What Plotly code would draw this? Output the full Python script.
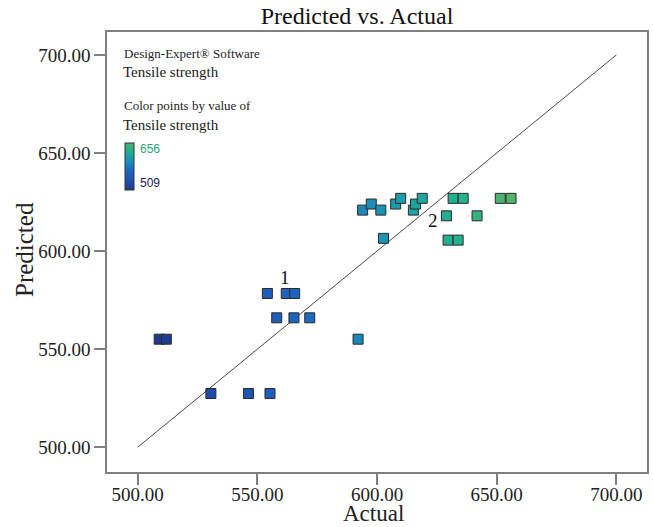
import plotly.graph_objects as go

# Data
actual = [554.2, 562.1, 565.6,
          558.1, 565.3, 571.9,
          509.0, 512.0, 592.1,
          530.6, 546.3, 555.3,
          594.0, 597.6, 601.6, 607.8, 609.9, 615.2, 616.1, 618.9,
          631.8, 636.0, 651.5, 656.0,
          629.0, 641.8,
          602.7, 629.7, 633.9]
predicted = [578.4, 578.4, 578.4,
             566.0, 566.0, 566.0,
             555.1, 555.1, 555.1,
             527.4, 527.4, 527.4,
             620.9, 624.0, 620.9, 624.0, 626.9, 620.9, 624.0, 626.9,
             626.9, 626.9, 626.9, 626.9,
             618.0, 618.0,
             606.5, 605.6, 605.6]
line_x = [500, 700]
line_y = [500, 700]
tick_vals = [500, 550, 600, 650, 700]
tick_text = ["500.00", "550.00", "600.00", "650.00", "700.00"]
color_min, color_max = 509, 656
labels = [("1", 561.5, 586.7), ("2", 623.5, 615.8)]

colorscale = [[0.0, "#1f3a8f"], [0.25, "#1f55b5"], [0.45, "#1b6dc4"],
              [0.6, "#1c8db8"], [0.72, "#1ca3a3"], [0.86, "#26b38a"],
              [1.0, "#52b36a"]]

serif = "Liberation Serif"
W, H = 654, 527
L, R, T, B = 107, 7, 32, 55
PW, PH = W - L - R, H - T - B


def px_x(px):
    return (px - L) / PW


def px_y(py):
    return (H - B - py) / PH


fig = go.Figure()
fig.add_trace(go.Scatter(x=line_x, y=line_y, mode="lines",
                         line=dict(color="#4a4a4a", width=1), hoverinfo="skip",
                         showlegend=False))
fig.add_trace(go.Scatter(
    x=actual, y=predicted, mode="markers", showlegend=False,
    marker=dict(symbol="square", size=10, color=actual, colorscale=colorscale,
                cmin=color_min, cmax=color_max,
                line=dict(color="#2a2a2a", width=1),
                showscale=True,
                colorbar=dict(thickness=9, lenmode="pixels", len=47,
                              x=px_x(125), xanchor="left", y=px_y(166.5),
                              yanchor="middle",
                              xpad=0, ypad=0, showticklabels=False, ticks="",
                              outlinewidth=1, outlinecolor="#333333"))))

for txt, lx, ly in labels:
    fig.add_annotation(x=lx, y=ly, text=txt, showarrow=False,
                       font=dict(family=serif, size=19, color="#111111"))


def pann(text, px, py, size, color="#222222", family=serif, anchor="left", angle=0):
    fig.add_annotation(xref="paper", yref="paper",
                       x=px_x(px), y=px_y(py), textangle=angle,
                       text=text, showarrow=False, xanchor=anchor, yanchor="middle",
                       font=dict(family=family, size=size, color=color))


pann("Design-Expert® Software", 122, 53, 13)
pann("Tensile strength", 121, 72, 15)
pann("Color points by value of", 122, 105, 13)
pann("Tensile strength", 121, 125, 15)
pann("656", 138, 149, 12, color="#1fa474", family="Liberation Sans")
pann("509", 138, 183, 12, color="#1a1a5a", family="Liberation Sans")
pann("Actual", 373, 513, 23, anchor="center")
pann("Predicted", 24, 250, 25, anchor="center", angle=-90)

axis_common = dict(showgrid=False, zeroline=False, showline=True, mirror=True,
                   automargin=False,
                   linecolor="#808080", linewidth=1.5, ticks="outside",
                   ticklen=11, tickcolor="#808080", tickwidth=1.5,
                   tickvals=tick_vals, ticktext=tick_text,
                   tickfont=dict(family=serif, size=19, color="#222222"))

fig.update_layout(
    width=W, height=H,
    margin=dict(l=L, r=R, t=T, b=B, autoexpand=False),
    paper_bgcolor="white", plot_bgcolor="white",
    title=dict(text="Predicted vs. Actual", x=357 / W, xanchor="center",
               y=1 - 16 / H, yanchor="middle",
               font=dict(family=serif, size=24, color="#111111")),
    xaxis=dict(range=[487.2, 712.8], ticklabelstandoff=-7, **axis_common),
    yaxis=dict(range=[487.4, 711.7], **axis_common),
)

fig.write_html("out.html", config={"displayModeBar": False},
               post_script="document.body.style.margin='0px';")
